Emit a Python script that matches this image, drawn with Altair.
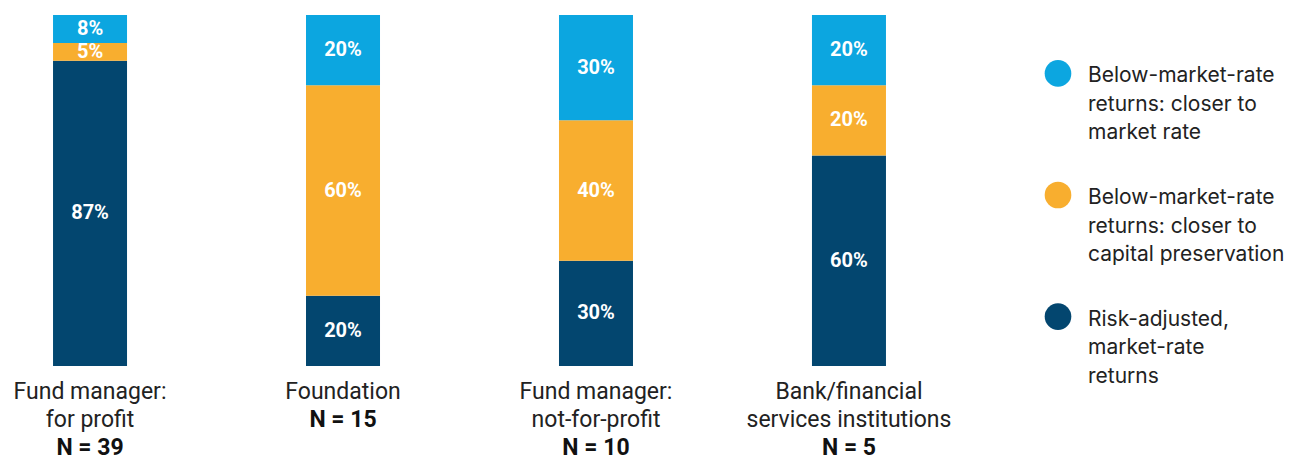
import altair as alt

categories = ["Fund manager: for profit", "Foundation", "Fund manager: not-for-profit", "Bank/financial services institutions"]
category_lines = [["Fund manager:", "for profit"], ["Foundation"], ["Fund manager:", "not-for-profit"], ["Bank/financial", "services institutions"]]
n_labels = ["N = 39", "N = 15", "N = 10", "N = 5"]

series = [
    "Risk-adjusted, market-rate returns",
    "Below-market-rate returns: closer to capital preservation",
    "Below-market-rate returns: closer to market rate",
]
series_lines = [
    ["Risk-adjusted,", "market-rate", "returns"],
    ["Below-market-rate", "returns: closer to", "capital preservation"],
    ["Below-market-rate", "returns: closer to", "market rate"],
]
colors = ["#03466f", "#f8ae2f", "#0ca6e0"]

risk_adjusted = [87, 20, 30, 60]
closer_to_preservation = [5, 60, 40, 20]
closer_to_market = [8, 20, 30, 20]
values_by_series = [risk_adjusted, closer_to_preservation, closer_to_market]

bar_records = []
for si, (s, vals) in enumerate(zip(series, values_by_series)):
    for c, v in zip(categories, vals):
        bar_records.append({"cat": c, "series": s, "value": v, "order": si})

label_records = [{"cat": c, "lines": lines, "n": n}
                 for c, lines, n in zip(categories, category_lines, n_labels)]

legend_order = list(reversed(series))
legend_records = [{"series": s, "lines": l} for s, l in zip(series, series_lines)]

LINE_H = 28
TOP = 366

color_scale = alt.Scale(domain=series, range=colors)
x_enc = alt.X("cat:N", sort=categories, axis=None,
              scale=alt.Scale(paddingInner=0.7075, paddingOuter=0.178))

base = alt.Chart(alt.Data(values=bar_records)).transform_stack(
    stack="value", groupby=["cat"], as_=["v0", "v1"],
    sort=[alt.SortField("order", order="ascending")],
).transform_calculate(
    mid="(datum.v0 + datum.v1) / 2",
    lbl="datum.value + '%'",
)

bars = base.mark_bar().encode(
    x=x_enc,
    y=alt.Y("v0:Q", scale=alt.Scale(domain=[0, 100]), axis=None),
    y2="v1:Q",
    color=alt.Color("series:N", scale=color_scale, legend=None),
)

values_text = base.mark_text(color="white", fontWeight="bold", fontSize=20, font="Roboto").encode(
    x=x_enc,
    y=alt.Y("mid:Q", scale=alt.Scale(domain=[0, 100]), axis=None),
    text="lbl:N",
)

cat_text = alt.Chart(alt.Data(values=label_records)).mark_text(
    baseline="top", fontSize=23, lineHeight=LINE_H, font="Roboto", color="#222222"
).encode(x=x_enc, y=alt.value(TOP), text="lines:N")

n_text = alt.Chart(alt.Data(values=label_records)).transform_calculate(
    nl="length(datum.lines)"
).mark_text(
    baseline="top", fontSize=23, font="Roboto", fontWeight="bold", color="#111111"
).encode(
    x=x_enc,
    y=alt.Y("nl:Q", axis=None,
            scale=alt.Scale(domain=[1, 2], range=[TOP + LINE_H, TOP + 2 * LINE_H])),
    text="n:N",
)

left = alt.layer(bars, values_text, cat_text, n_text).resolve_scale(
    y="independent"
).properties(width=923, height=351)

leg_y = alt.Y("series:N", sort=legend_order, axis=None,
              scale=alt.Scale(type="point", padding=0.48))
leg_pts = alt.Chart(alt.Data(values=legend_records)).mark_circle(size=710, opacity=1).encode(
    x=alt.value(15), y=leg_y,
    color=alt.Color("series:N", scale=color_scale, legend=None),
)
leg_txt = alt.Chart(alt.Data(values=legend_records)).mark_text(
    align="left", baseline="alphabetic", dy=9, fontSize=21, lineHeight=28.5, font="Inter", color="#222222"
).encode(x=alt.value(45), y=leg_y, text="lines:N")

legend = alt.layer(leg_pts, leg_txt).properties(width=240, height=360)

chart = alt.hconcat(left, legend, spacing=112, bounds="flush").properties(
    padding={"left": 0, "top": 7, "right": 0, "bottom": 0}
).configure_view(stroke=None)

chart.save("out.html", embed_options={"renderer": "svg", "actions": False})
